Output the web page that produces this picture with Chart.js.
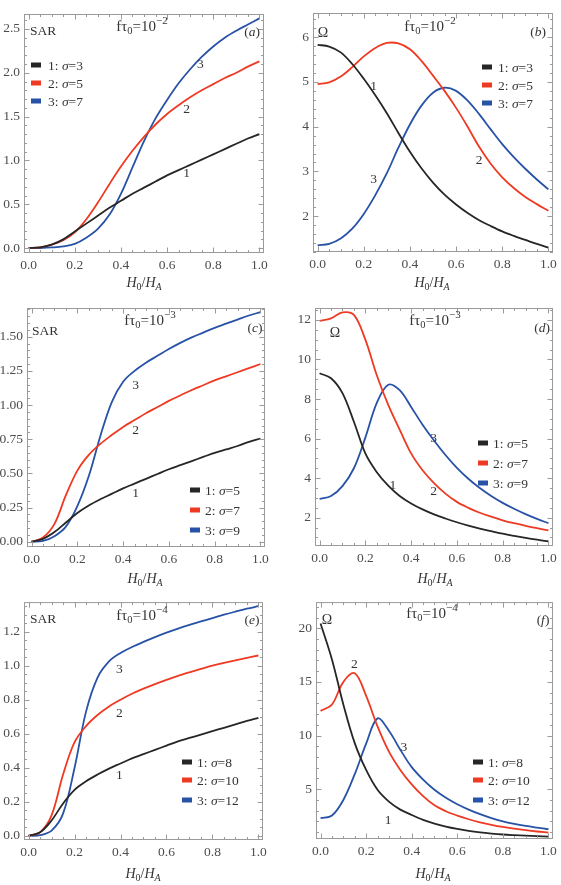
<!DOCTYPE html>
<html>
<head>
<meta charset="utf-8">
<title>SAR and Omega vs H0/HA</title>
<script src="https://cdn.jsdelivr.net/npm/chart.js@4.4.1/dist/chart.umd.min.js"></script>
<style>
    html, body { margin: 0; padding: 0; background: #fff; }
    #wrap { position: relative; width: 561px; height: 885px; }
    #wrap canvas { position: absolute; }
</style>
</head>
<body>
<div id="wrap">
    <canvas id="chartA" width="280" height="295" style="left:0;top:0"></canvas>
    <canvas id="chartB" width="281" height="295" style="left:280px;top:0"></canvas>
    <canvas id="chartC" width="280" height="295" style="left:0;top:295px"></canvas>
    <canvas id="chartD" width="281" height="295" style="left:280px;top:295px"></canvas>
    <canvas id="chartE" width="280" height="295" style="left:0;top:590px"></canvas>
    <canvas id="chartF" width="281" height="295" style="left:280px;top:590px"></canvas>
</div>
<script>
// H0/HA grid shared by every curve
const hValues = [0, 0.05, 0.1, 0.15, 0.2, 0.25, 0.3, 0.35, 0.4, 0.45, 0.5,
                 0.55, 0.6, 0.65, 0.7, 0.75, 0.8, 0.85, 0.9, 0.95, 1.0];
const hTicks = [0, 0.2, 0.4, 0.6, 0.8, 1.0];

// f*tau0 = 10^-2
const sigmaA = [3, 5, 7];
const sarA1 = [0, 0.01, 0.04, 0.10, 0.19, 0.28, 0.37, 0.46, 0.54, 0.62, 0.69, 0.76, 0.83, 0.89, 0.95, 1.01, 1.07, 1.13, 1.19, 1.25, 1.30];
const sarA2 = [0, 0.01, 0.04, 0.09, 0.18, 0.33, 0.52, 0.73, 0.93, 1.11, 1.27, 1.41, 1.53, 1.63, 1.72, 1.80, 1.87, 1.94, 2.00, 2.07, 2.13];
const sarA3 = [0, 0.002, 0.008, 0.02, 0.05, 0.12, 0.22, 0.38, 0.62, 0.92, 1.22, 1.48, 1.69, 1.88, 2.04, 2.18, 2.30, 2.40, 2.48, 2.55, 2.62];
const omegaB1 = [5.83, 5.79, 5.66, 5.40, 5.07, 4.70, 4.30, 3.86, 3.44, 3.07, 2.75, 2.48, 2.26, 2.07, 1.91, 1.78, 1.66, 1.56, 1.47, 1.38, 1.30];
const omegaB2 = [4.95, 4.99, 5.12, 5.33, 5.57, 5.76, 5.87, 5.86, 5.73, 5.47, 5.14, 4.80, 4.42, 4.00, 3.55, 3.17, 2.87, 2.63, 2.43, 2.27, 2.12];
const omegaB3 = [1.35, 1.38, 1.50, 1.72, 2.05, 2.47, 2.96, 3.53, 4.05, 4.47, 4.76, 4.87, 4.80, 4.58, 4.28, 3.94, 3.61, 3.32, 3.06, 2.82, 2.60];

// f*tau0 = 10^-3
const sigmaC = [5, 7, 9];
const sarC1 = [0, 0.02, 0.07, 0.14, 0.21, 0.265, 0.31, 0.35, 0.39, 0.425, 0.46, 0.495, 0.53, 0.56, 0.59, 0.62, 0.65, 0.675, 0.70, 0.73, 0.755];
const sarC2 = [0, 0.03, 0.13, 0.34, 0.52, 0.635, 0.715, 0.78, 0.84, 0.89, 0.94, 0.985, 1.03, 1.07, 1.11, 1.145, 1.18, 1.21, 1.24, 1.27, 1.30];
const sarC3 = [0, 0.005, 0.04, 0.11, 0.26, 0.48, 0.77, 1.02, 1.17, 1.25, 1.31, 1.36, 1.41, 1.455, 1.495, 1.53, 1.565, 1.595, 1.625, 1.655, 1.68];
const omegaD1 = [9.30, 9.05, 8.30, 6.85, 5.25, 4.30, 3.62, 3.10, 2.72, 2.42, 2.17, 1.96, 1.77, 1.60, 1.45, 1.32, 1.19, 1.08, 0.98, 0.89, 0.80];
const omegaD2 = [11.95, 12.08, 12.38, 12.25, 11.0, 9.2, 7.7, 6.45, 5.25, 4.4, 3.75, 3.22, 2.8, 2.5, 2.25, 2.05, 1.87, 1.72, 1.59, 1.47, 1.36];
const omegaD3 = [2.95, 3.10, 3.60, 4.50, 6.05, 7.8, 8.72, 8.45, 7.6, 6.7, 5.9, 5.17, 4.52, 3.97, 3.5, 3.1, 2.75, 2.45, 2.18, 1.94, 1.72];

// f*tau0 = 10^-4
const sigmaE = [8, 10, 12];
const sarE1 = [0, 0.02, 0.09, 0.19, 0.27, 0.32, 0.36, 0.395, 0.425, 0.455, 0.48, 0.505, 0.53, 0.555, 0.575, 0.595, 0.615, 0.635, 0.655, 0.675, 0.693];
const sarE2 = [0, 0.02, 0.12, 0.36, 0.55, 0.645, 0.71, 0.76, 0.80, 0.835, 0.865, 0.892, 0.917, 0.94, 0.961, 0.981, 1.0, 1.016, 1.031, 1.046, 1.06];
const sarE3 = [0, 0.003, 0.03, 0.13, 0.40, 0.73, 0.93, 1.025, 1.075, 1.11, 1.14, 1.168, 1.194, 1.218, 1.24, 1.26, 1.28, 1.30, 1.318, 1.335, 1.35];
const omegaF1 = [20.45, 17.1, 12.9, 9.3, 6.8, 4.95, 3.85, 3.1, 2.6, 2.15, 1.8, 1.52, 1.3, 1.12, 0.98, 0.87, 0.78, 0.72, 0.67, 0.63, 0.59];
const omegaF2 = [12.3, 12.9, 15.0, 15.8, 13.7, 10.85, 8.5, 6.8, 5.45, 4.35, 3.5, 2.95, 2.54, 2.2, 1.92, 1.68, 1.48, 1.32, 1.18, 1.06, 0.96];
const omegaF3 = [2.3, 2.55, 4.0, 6.4, 9.25, 11.6, 10.45, 8.68, 7.06, 5.9, 4.95, 4.2, 3.6, 3.1, 2.67, 2.3, 2.0, 1.77, 1.58, 1.42, 1.27];

// tick values
const sarTicksA = [0, 0.5, 1.0, 1.5, 2.0, 2.5];
const omegaTicksB = [2, 3, 4, 5, 6];
const sarTicksC = [0, 0.25, 0.5, 0.75, 1.0, 1.25, 1.5];
const omegaTicksD = [2, 4, 6, 8, 10, 12];
const sarTicksE = [0, 0.2, 0.4, 0.6, 0.8, 1.0, 1.2];
const omegaTicksF = [5, 10, 15, 20];

const fTauExp = ['−2', '−3', '−4'];

const lineColors = ['#262626', '#ee3a22', '#2752a6'];
const SERIF = '"Liberation Serif", "Times New Roman", serif';
const frameColor = '#9a9a9a';
const labelColor = '#4d4d4d';
const textColor = '#333';

// draw a row of text pieces: [text, size, italic, dy]
function drawRuns(ctx, runs, x, y, align) {
    let total = 0;
    runs.forEach(r => {
        ctx.font = (r[2] ? 'italic ' : '') + r[1] + 'px ' + SERIF;
        total += ctx.measureText(r[0]).width;
    });
    let cx = x;
    if (align === 'center') cx = x - total / 2;
    if (align === 'right') cx = x - total;
    runs.forEach(r => {
        ctx.font = (r[2] ? 'italic ' : '') + r[1] + 'px ' + SERIF;
        ctx.fillText(r[0], cx, y + (r[3] || 0));
        cx += ctx.measureText(r[0]).width;
    });
}

function tickMarks(ctx, scale, area, step, len, vertical) {
    const start = Math.ceil((scale.min - 1e-9) / step) * step;
    for (let v = start; v <= scale.max + 1e-9; v += step) {
        const p = Math.round(scale.getPixelForValue(v)) + 0.5;
        ctx.beginPath();
        if (vertical) {
            ctx.moveTo(area.left, p); ctx.lineTo(area.left + len, p);
            ctx.moveTo(area.right, p); ctx.lineTo(area.right - len, p);
        } else {
            ctx.moveTo(p, area.bottom); ctx.lineTo(p, area.bottom - len);
            ctx.moveTo(p, area.top); ctx.lineTo(p, area.top + len);
        }
        ctx.stroke();
    }
}

const panelPlugin = {
    id: 'panel',
    afterDraw(chart, args, opts) {
        const { ctx, chartArea: a, scales: { x, y } } = chart;
        ctx.save();

        // frame and inward ticks
        ctx.strokeStyle = frameColor;
        ctx.lineWidth = 1;
        ctx.strokeRect(a.left + 0.5, a.top + 0.5, a.right - a.left - 1, a.bottom - a.top - 1);
        tickMarks(ctx, x, a, 0.05, 3, false);
        tickMarks(ctx, x, a, 0.2, 5.5, false);
        tickMarks(ctx, y, a, opts.yMinor, 3, true);
        tickMarks(ctx, y, a, opts.yMajor, 5.5, true);

        ctx.fillStyle = textColor;
        ctx.textBaseline = 'alphabetic';

        // quantity name
        if (opts.kind === 'SAR') {
            drawRuns(ctx, [['SAR', 13.5, false]], opts.kindPos[0], opts.kindPos[1], 'left');
        } else {
            drawRuns(ctx, [['Ω', 14, false]], opts.kindPos[0], opts.kindPos[1], 'center');
        }
        // f tau0 = 10^n
        drawRuns(ctx, [['fτ', 15, false], ['0', 10.5, false, 3], ['=10', 15, false], [opts.exp, 11, false, -7]],
            opts.titlePos[0], opts.titlePos[1], 'center');
        // panel tag
        drawRuns(ctx, [['(', 13.5, false], [opts.tag, 13.5, true], [')', 13.5, false]],
            opts.tagPos[0], opts.tagPos[1], 'center');

        // axis title H0/HA
        drawRuns(ctx, [['H', 14, true], ['0', 10, false, 3], ['/', 14, false], ['H', 14, true], ['A', 10, true, 3]],
            opts.axisPos[0], opts.axisPos[1], 'center');

        // curve numbers
        ctx.textAlign = 'center';
        ctx.textBaseline = 'middle';
        ctx.font = '13.5px ' + SERIF;
        opts.curveLabels.forEach((p, i) => {
            ctx.fillText(String(i + 1), x.getPixelForValue(p[0]), y.getPixelForValue(p[1]));
        });

        // legend
        ctx.textAlign = 'left';
        ctx.textBaseline = 'middle';
        opts.sigmas.forEach((s, i) => {
            const ry = opts.legend.rows[i];
            ctx.fillStyle = lineColors[i];
            ctx.fillRect(opts.legend.x, ry - 2.5, 10, 5);
            ctx.fillStyle = textColor;
            drawRuns(ctx, [[(i + 1) + ': ', 13.5, false], ['σ', 13.5, true], ['=' + s, 13.5, false]],
                opts.legend.text, ry + 1, 'left');
        });

        ctx.restore();
    }
};
Chart.register(panelPlugin);

function makePanel(cfg) {
    const ctx = document.getElementById(cfg.id).getContext('2d');
    return new Chart(ctx, {
        type: 'line',
        data: {
            datasets: cfg.series.map((ys, i) => ({
                data: hValues.map((h, j) => ({ x: h, y: ys[j] })),
                borderColor: lineColors[i],
                borderWidth: 1.8,
                pointRadius: 0,
                fill: false,
                tension: 0.35
            }))
        },
        options: {
            responsive: false,
            animation: false,
            events: [],
            layout: { padding: { top: cfg.pad[0], right: cfg.pad[1], left: 0, bottom: 0 } },
            plugins: {
                legend: { display: false },
                tooltip: { enabled: false },
                panel: cfg
            },
            scales: {
                x: {
                    type: 'linear',
                    min: -0.02,
                    max: 1.02,
                    afterBuildTicks: s => { s.ticks = hTicks.map(v => ({ value: v })); },
                    afterFit: s => { s.height = cfg.xHeight; },
                    grid: { display: false, drawTicks: false },
                    border: { display: false },
                    ticks: {
                        autoSkip: false, maxRotation: 0, padding: 4,
                        color: labelColor,
                        font: { family: SERIF, size: 13.5 },
                        callback: v => v.toFixed(1)
                    }
                },
                y: {
                    type: 'linear',
                    min: cfg.yRange[0],
                    max: cfg.yRange[1],
                    afterBuildTicks: s => { s.ticks = cfg.yTicks.map(v => ({ value: v })); },
                    afterFit: s => { s.width = cfg.yWidth; },
                    grid: { display: false, drawTicks: false },
                    border: { display: false },
                    ticks: {
                        autoSkip: false, padding: 4,
                        color: labelColor,
                        font: { family: SERIF, size: 13.5 },
                        callback: v => v.toFixed(cfg.yDigits)
                    }
                }
            }
        }
    });
}

makePanel({
    id: 'chartA', kind: 'SAR', tag: 'a', exp: fTauExp[0],
    series: [sarA1, sarA2, sarA3], sigmas: sigmaA,
    yRange: [-0.055, 2.67], yTicks: sarTicksA, yDigits: 1, yMajor: 0.5, yMinor: 0.1,
    yWidth: 24, xHeight: 42, pad: [14, 16],
    kindPos: [30, 35], titlePos: [142, 31], tagPos: [252, 36], axisPos: [144, 287],
    legend: { x: 31, text: 48, rows: [65, 83, 101] },
    curveLabels: [[0.685, 0.85], [0.685, 1.58], [0.744, 2.09]]
});
makePanel({
    id: 'chartB', kind: 'Omega', tag: 'b', exp: fTauExp[0],
    series: [omegaB1, omegaB2, omegaB3], sigmas: sigmaA,
    yRange: [1.2, 6.54], yTicks: omegaTicksB, yDigits: 0, yMajor: 1, yMinor: 0.2,
    yWidth: 33, xHeight: 43, pad: [13, 8],
    kindPos: [43, 37], titlePos: [150, 31], tagPos: [258, 36], axisPos: [152, 287],
    legend: { x: 202, text: 218, rows: [67, 85, 103] },
    curveLabels: [[0.243, 4.91], [0.70, 3.25], [0.243, 2.81]]
});
makePanel({
    id: 'chartC', kind: 'SAR', tag: 'c', exp: fTauExp[1],
    series: [sarC1, sarC2, sarC3], sigmas: sigmaC,
    yRange: [-0.039, 1.71], yTicks: sarTicksC, yDigits: 2, yMajor: 0.25, yMinor: 0.05,
    yWidth: 27, xHeight: 43, pad: [13, 15],
    kindPos: [32, 40], titlePos: [150, 30], tagPos: [255, 37], axisPos: [145, 288],
    legend: { x: 190, text: 205, rows: [195, 215, 235] },
    curveLabels: [[0.455, 0.354], [0.455, 0.817], [0.455, 1.146]]
});
makePanel({
    id: 'chartD', kind: 'Omega', tag: 'd', exp: fTauExp[1],
    series: [omegaD1, omegaD2, omegaD3], sigmas: sigmaC,
    yRange: [0.57, 12.6], yTicks: omegaTicksD, yDigits: 0, yMajor: 2, yMinor: 0.5,
    yWidth: 35, xHeight: 44, pad: [13, 7],
    kindPos: [55, 42], titlePos: [155, 30], tagPos: [262, 37], axisPos: [155, 288],
    legend: { x: 198, text: 213, rows: [148, 168, 188] },
    curveLabels: [[0.32, 3.65], [0.498, 3.35], [0.498, 6.01]]
});
makePanel({
    id: 'chartE', kind: 'SAR', tag: 'e', exp: fTauExp[2],
    series: [sarE1, sarE2, sarE3], sigmas: sigmaE,
    yRange: [-0.025, 1.374], yTicks: sarTicksE, yDigits: 1, yMajor: 0.2, yMinor: 0.05,
    yWidth: 24, xHeight: 45, pad: [11, 17],
    kindPos: [30, 33], titlePos: [142, 30], tagPos: [252, 34], axisPos: [143, 288],
    legend: { x: 182, text: 197, rows: [172, 190, 210] },
    curveLabels: [[0.395, 0.355], [0.395, 0.72], [0.395, 0.98]]
});
makePanel({
    id: 'chartF', kind: 'Omega', tag: 'f', exp: fTauExp[2],
    series: [omegaF1, omegaF2, omegaF3], sigmas: sigmaE,
    yRange: [0.36, 22.44], yTicks: omegaTicksF, yDigits: 0, yMajor: 5, yMinor: 1,
    yWidth: 36, xHeight: 46, pad: [11, 7],
    kindPos: [47, 34], titlePos: [152, 28], tagPos: [263, 34], axisPos: [153, 288],
    legend: { x: 193, text: 208, rows: [172, 190, 210] },
    curveLabels: [[0.297, 2.12], [0.148, 16.6], [0.366, 8.93]]
});
</script>
</body>
</html>
